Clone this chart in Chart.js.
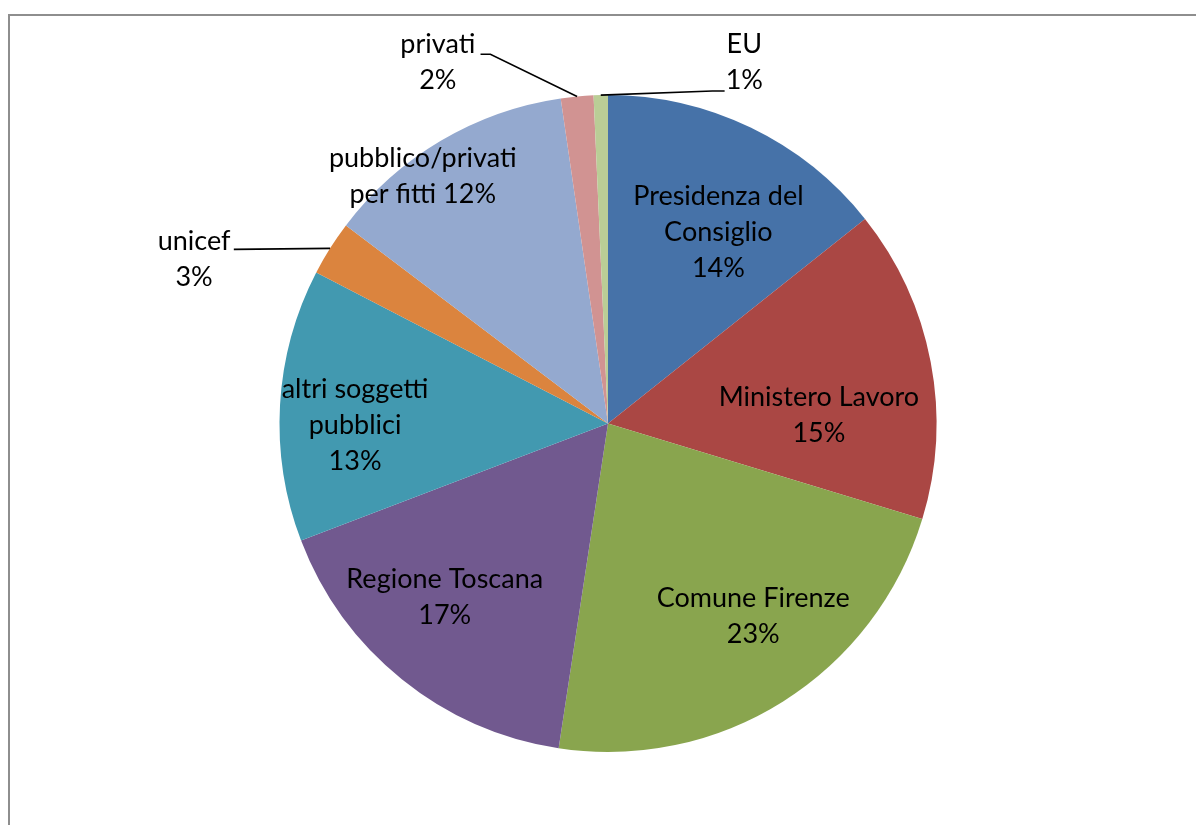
<!DOCTYPE html>
<html>
<head>
<meta charset="utf-8">
<script src="https://cdn.jsdelivr.net/npm/chart.js@4/dist/chart.umd.min.js"></script>
<style>
    html, body { margin: 0; padding: 0; background: #fff; }
    #wrap { width: 1196px; height: 825px; position: relative; }
</style>
</head>
<body>
<div id="wrap"><canvas id="pie-chart" width="1196" height="825"></canvas></div>
<script>
// slice names
const categories = [
    'Presidenza del Consiglio',
    'Ministero Lavoro',
    'Comune Firenze',
    'Regione Toscana',
    'altri soggetti pubblici',
    'unicef',
    'pubblico/privati per fitti',
    'privati',
    'EU'
];
const shares = [14.3, 15.4, 22.7, 16.8, 13.4, 2.7, 12.4, 1.6, 0.7];
const sliceColors = [
    '#4672A8', '#AA4744', '#89A54E', '#71598F', '#4299B0',
    '#DB843E', '#94A9CF', '#D19392', '#BACD96'
];

// label text lines (last line gets the percentage appended)
const labelLines = [
    ['Presidenza del', 'Consiglio', ''],
    ['Ministero Lavoro', ''],
    ['Comune Firenze', ''],
    ['Regione Toscana', ''],
    ['altri soggetti', 'pubblici', ''],
    ['unicef', ''],
    ['pubblico/privati', 'per fitti '],
    ['privati', ''],
    ['EU', '']
];
// label block centres relative to the pie centre, in radius units
const labelOffsets = [
    [0.336, -0.582], [0.642, -0.024], [0.442, 0.588], [-0.497, 0.530],
    [-0.770, 0.006], [-1.260, -0.500], [-0.564, -0.752], [-0.518, -1.100],
    [0.415, -1.100]
];
// leader lines for the small outside labels: [start, elbow] relative to centre, radius units
const leaders = {
    5: [[-1.139, -0.530], [-1.139, -0.530]],
    7: [[-0.388, -1.124], [-0.358, -1.124]],
    8: [[0.355, -1.012], [0.318, -1.012]]
};

const labelPlugin = {
    id: 'sliceLabels',
    beforeDraw(chart) {
        const ctx = chart.ctx;
        ctx.save();
        ctx.fillStyle = '#fff';
        ctx.fillRect(0, 0, chart.width, chart.height);
        ctx.fillStyle = '#8e8e8e';
        ctx.fillRect(8, 14, chart.width - 8, 2);
        ctx.fillRect(8, 14, 2, chart.height - 14);
        ctx.restore();
    },
    afterDatasetsDraw(chart) {
        const ctx = chart.ctx;
        const meta = chart.getDatasetMeta(0);
        const total = shares.reduce((a, b) => a + b, 0);
        ctx.save();
        ctx.font = '27px Lato, "Open Sans", sans-serif';
        ctx.fillStyle = '#000';
        ctx.strokeStyle = '#000';
        ctx.lineWidth = 1.6;
        ctx.textAlign = 'center';
        ctx.textBaseline = 'middle';
        const lineH = 36;

        meta.data.forEach((arc, i) => {
            const { x, y, outerRadius, startAngle, endAngle } = arc.getProps(['x', 'y', 'outerRadius', 'startAngle', 'endAngle'], true);
            const R = outerRadius;
            const pct = Math.round(shares[i] / total * 100) + '%';
            const lines = labelLines[i].slice();
            lines[lines.length - 1] = lines[lines.length - 1] + pct;

            if (leaders[i]) {
                const mid = (startAngle + endAngle) / 2;
                const ax = x + Math.cos(mid) * R;
                const ay = y + Math.sin(mid) * R;
                const [s, e] = leaders[i];
                ctx.beginPath();
                ctx.moveTo(x + s[0] * R, y + s[1] * R);
                ctx.lineTo(x + e[0] * R, y + e[1] * R);
                ctx.lineTo(ax, ay);
                ctx.stroke();
            }

            const cx = x + labelOffsets[i][0] * R;
            const cy = y + labelOffsets[i][1] * R;
            const top = cy - (lines.length - 1) * lineH / 2;
            lines.forEach((t, k) => ctx.fillText(t, cx, top + k * lineH));
        });
        ctx.restore();
    }
};

new Chart(document.getElementById('pie-chart').getContext('2d'), {
    type: 'pie',
    data: {
        labels: categories,
        datasets: [{
            data: shares,
            backgroundColor: sliceColors,
            borderWidth: 0
        }]
    },
    options: {
        responsive: false,
        animation: false,
        layout: { padding: { left: 20, right: 0, top: 95, bottom: 73 } },
        plugins: {
            legend: { display: false },
            tooltip: { enabled: false }
        }
    },
    plugins: [labelPlugin]
});
</script>
</body>
</html>
